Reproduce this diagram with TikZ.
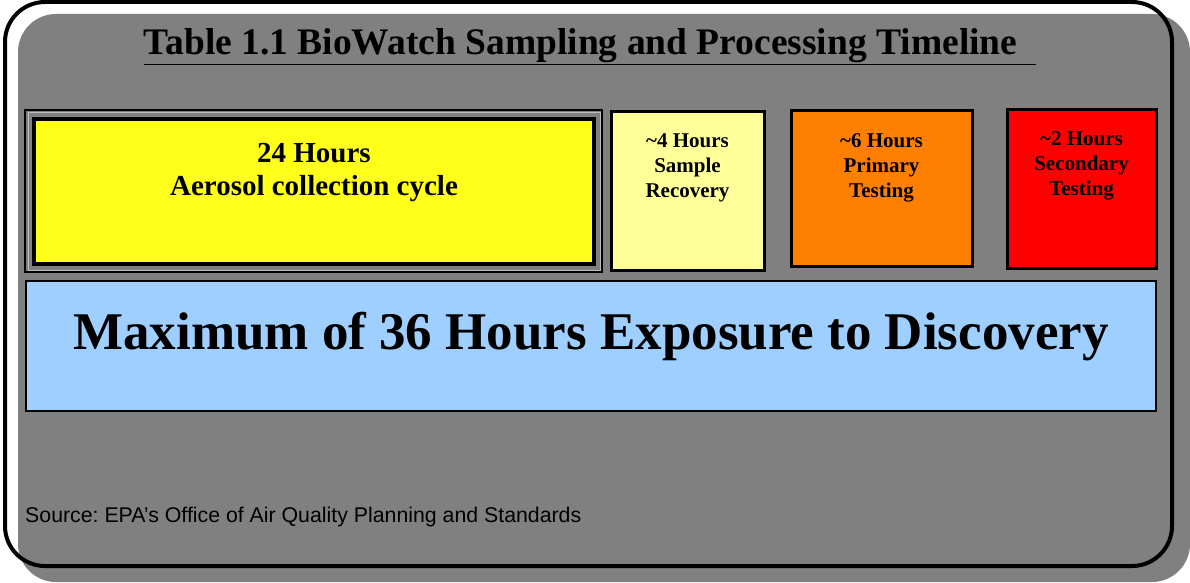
\documentclass[tikz,border=0pt]{standalone}
\usepackage{fontspec}
\setmainfont{Liberation Serif}
\setsansfont{Liberation Sans}
\usetikzlibrary{positioning}
\definecolor{panelgray}{HTML}{808080}
\definecolor{collectyellow}{HTML}{FFFF1A}
\definecolor{recovyellow}{HTML}{FFFF99}
\definecolor{primaryorange}{HTML}{FF8000}
\definecolor{secondaryred}{HTML}{FF0000}
\definecolor{exposureblue}{HTML}{9FCFFF}
\frenchspacing

\begin{document}
\begin{tikzpicture}[x=1pt,y=1pt]
\tikzstyle{stage}=[draw, line width=3pt, inner sep=0pt, anchor=north west]
\tikzstyle{stagetext}=[align=center, inner sep=0pt, font=\bfseries\fontsize{21}{25}\selectfont]
\useasboundingbox (0,0) rectangle (1190,582);
% panel with its shadow and the round frame
\fill[panelgray, rounded corners=38pt] (18,0) rectangle (1190,568);
\draw[line width=4pt, rounded corners=40pt] (5,16) rectangle (1172,580);
\node[inner sep=0pt, anchor=base, font=\bfseries\fontsize{37.5}{44}\selectfont] (title) at (590,527) {\underline{Table 1.1 BioWatch Sampling and Processing Timeline\ \ }};
% the four stages
\node[stage, line width=4pt, fill=collectyellow, minimum width=560pt, minimum height=145pt] (collect) at (32,465) {};
\draw[lightgray, line width=1pt] ([shift={(-4,4)}]collect.north west) rectangle ([shift={(4,-4)}]collect.south east);
\draw[line width=2pt] ([shift={(-7,7)}]collect.north west) rectangle ([shift={(6,-6)}]collect.south east);
\node[stage, fill=recovyellow, minimum width=153pt, minimum height=158pt] (recov) at (609.5,471.5) {};
\node[stage, fill=primaryorange, minimum width=181pt, minimum height=155pt] (primary) at (789.5,472.5) {};
\node[stage, fill=secondaryred, minimum width=149pt, minimum height=158pt] (secondary) at (1005.5,473.5) {};
\node[stagetext, font=\bfseries\fontsize{29}{33}\selectfont, below=26pt of collect.north] (collecttxt) {24 Hours\\Aerosol collection cycle};
\node[stagetext, below=23pt of recov.north] (recovtxt) {\textasciitilde4 Hours\\Sample\\Recovery};
\node[stagetext, below=24pt of primary.north] (primarytxt) {\textasciitilde6 Hours\\Primary\\Testing};
\node[stagetext, below=23pt of secondary.north] (secondarytxt) {\textasciitilde2 Hours\\Secondary\\Testing};
% total
\node[stage, line width=2pt, fill=exposureblue, minimum width=1130pt, minimum height=130pt] (exposure) at (25,302) {};
\node[stagetext, font=\bfseries\fontsize{53}{60}\selectfont, below=32pt of exposure.north] (exposuretxt) {Maximum of 36 Hours Exposure to Discovery};
\node[inner sep=0pt, anchor=base west, font=\sffamily\fontsize{21.3}{24}\selectfont] (source) at (25,60) {Source: EPA’s Office of Air Quality Planning and Standards};
\end{tikzpicture}
\end{document}
